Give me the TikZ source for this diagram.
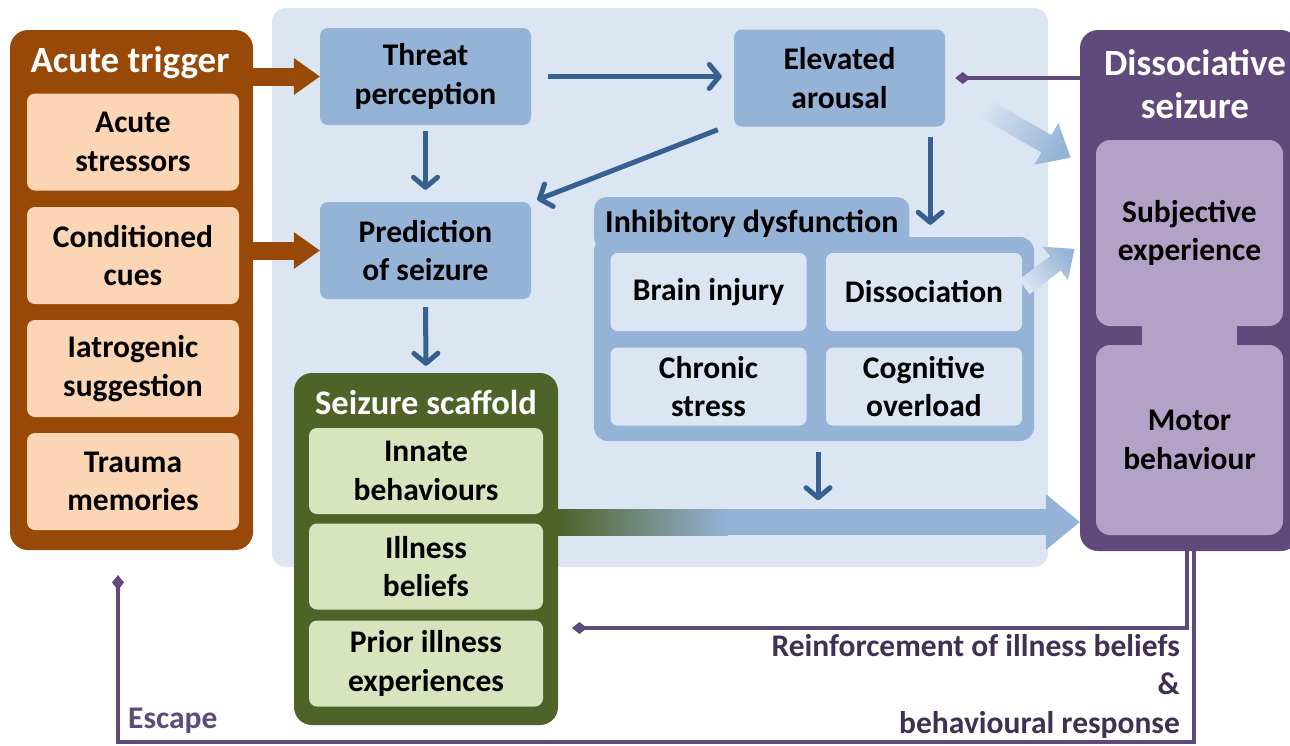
\documentclass[tikz,border=0pt]{standalone}
\usepackage{fontspec}
\setmainfont{Carlito}
\usetikzlibrary{arrows.meta,calc,positioning}

\definecolor{panelblue}{HTML}{DCE6F2}
\definecolor{boxblue}{HTML}{95B3D7}
\definecolor{arrowblue}{HTML}{376092}
\definecolor{trigbrown}{HTML}{984807}
\definecolor{trigpeach}{HTML}{FCD5B5}
\definecolor{scafgreen}{HTML}{4F6228}
\definecolor{scaflight}{HTML}{D7E4BD}
\definecolor{seizpurple}{HTML}{604A7B}
\definecolor{seizlight}{HTML}{B3A2C7}
\definecolor{labpurple}{HTML}{403152}

\begin{document}
\begin{tikzpicture}[x=1pt, y=-1pt,
   every node/.style={font=\bfseries\fontsize{31.5}{38.5}\selectfont, align=center, inner sep=0pt},
   frame/.style={rounded corners=18pt},
   title/.style={text=white, font=\bfseries\fontsize{37}{43}\selectfont},
   blubox/.style={fill=boxblue, rounded corners=8pt, minimum width=211pt, minimum height=97pt},
   peachbox/.style={fill=trigpeach, rounded corners=8pt, minimum width=212pt, minimum height=97pt},
   greenbox/.style={fill=scaflight, rounded corners=8pt, minimum width=234pt, minimum height=86pt},
   litebox/.style={fill=panelblue, rounded corners=7pt, minimum width=196pt, minimum height=78pt},
   lilacbox/.style={fill=seizlight, rounded corners=14pt, minimum width=187pt},
   thin/.style={draw=arrowblue, line width=5pt, -{Straight Barb[round,length=10pt,width=24pt]}},
   fat/.style={draw=trigbrown, line width=18pt, -{Triangle[length=26pt,width=37pt,line width=0pt]}},
   feedback/.style={draw=seizpurple, line width=3.5pt, -{Diamond[length=15pt,width=12pt,line width=0pt]}}]

   \useasboundingbox (0,0) rectangle (1290,745);

   % background panel
   \node[fill=panelblue, rounded corners=14pt, minimum width=776pt, minimum height=559pt] (panel) at (660,287.5) {};

   % acute trigger
   \node[frame, fill=trigbrown, minimum width=243pt, minimum height=520pt] (trig) at (131.5,290) {};
   \node[title] (trigtitle) at (130,63) {Acute trigger};
   \node[peachbox] (stress) at (133,142) {Acute\\stressors};
   \node[peachbox] (cues) at (133,255.5) {Conditioned\\cues};
   \node[peachbox] (iatro) at (133,368.5) {Iatrogenic\\suggestion};
   \node[peachbox] (trauma) at (133,481.5) {Trauma\\memories};

   % central boxes
   \node[blubox] (threat) at (425.5,76.5) {Threat\\perception};
   \node[blubox] (elev) at (839.5,78) {Elevated\\arousal};
   \node[blubox] (pred) at (425.5,250.5) {Prediction\\of seizure};

   % inhibitory dysfunction
   \node[fill=boxblue, rounded corners=12pt, anchor=north west, minimum height=53pt, inner xsep=11pt,
         font=\bfseries\fontsize{32}{38}\selectfont] (inhibtab) at (594,197) {Inhibitory dysfunction};
   \node[fill=boxblue, rounded corners=14pt, minimum width=440pt, minimum height=204pt] (inhib) at (814,339) {};
   \node[litebox] (brain) at (708.5,292) {Brain injury};
   \node[litebox] (dissoc) at (924,292) {Dissociation};
   \node[litebox] (chronic) at (708.5,386.5) {Chronic\\stress};
   \node[litebox] (cognit) at (924,386.5) {Cognitive\\overload};

   % seizure scaffold
   \node[frame, fill=scafgreen, minimum width=264pt, minimum height=352pt] (scaf) at (426,549) {};
   \node[title, font=\bfseries\fontsize{34.5}{40}\selectfont] (scaftitle) at (426,402) {Seizure scaffold};
   \node[greenbox] (innate) at (426,471) {Innate\\behaviours};
   \node[greenbox] (beliefs) at (426,566.5) {Illness\\beliefs};
   \node[greenbox] (prior) at (426,663.5) {Prior illness\\experiences};

   % dissociative seizure
   \node[frame, fill=seizpurple, minimum width=219pt, minimum height=521pt] (dis) at (1189.5,290.5) {};
   \node[title] (distitle) at (1195,84.5) {Dissociative\\seizure};
   \node[lilacbox, minimum height=186pt] (subj) at (1189.5,233) {Subjective\\experience};
   \node[lilacbox, minimum height=190pt] (motor) at (1189.5,440) {Motor\\behaviour};
   \fill[seizlight] ($(subj.south)+(-47.5,-2)$) rectangle ($(motor.north)+(47.5,2)$);

   % thin arrows
   \draw[thin] ([xshift=17pt]threat.east) -- ([xshift=-12pt]elev.west |- threat.east);
   \draw[thin] ([yshift=-6pt]threat.south) -- ([yshift=12pt]pred.north);
   \draw[thin] ([xshift=-16pt,yshift=-3pt]elev.south west) -- ([xshift=6pt,yshift=2pt]pred.north east);
   \coordinate (arousaldown) at ([xshift=-15pt]elev.south east);
   \draw[thin] ([yshift=-10pt]arousaldown) -- ([yshift=12pt]arousaldown |- inhib.north);
   \draw[thin] ([yshift=-8pt]pred.south) -- ([yshift=7pt]scaf.north);
   \draw[thin] ([xshift=4pt,yshift=-11pt]inhib.south) -- ([xshift=4pt,yshift=-59pt]inhib.south);

   % trigger arrows
   \draw[fat] (trig.east |- threat.west) -- (threat.west);
   \draw[fat] (trig.east |- pred.west) -- (pred.west);

   % main arrow to seizure
   \coordinate (bigy) at (700,522);
   \draw[line width=26pt, boxblue, -{Triangle[length=34pt,width=56pt,line width=0pt]}] (scaf.east |- bigy) -- (dis.west |- bigy);
   \shade[left color=scafgreen, right color=boxblue] ($(scaf.east |- bigy)+(0,-13)$) rectangle ($(scaf.east |- bigy)+(170,13)$);

   % faded arrows
   \begin{scope}[shift={($(elev.east)+(30,25)$)}, rotate=-29.8]
      \shade[left color=panelblue, right color=boxblue, shading angle=60.2]
         (0,10) -- (82,10) -- (82,24) -- (110,0) -- (82,-24) -- (82,-10) -- (0,-10) -- cycle;
   \end{scope}
   \begin{scope}[shift={($(dissoc.east)+(2,-5)$)}, rotate=37.2]
      \shade[left color=panelblue, right color=boxblue, shading angle=127.2]
         (0,9) -- (39,9) -- (39,21) -- (63,0) -- (39,-21) -- (39,-9) -- (0,-9) -- cycle;
   \end{scope}

   % feedback loops
   \draw[feedback] (dis.west |- elev.east) -- ([xshift=10pt]elev.east);
   \coordinate (reincorner) at (1187,628);
   \coordinate (reinend) at (572,628);
   \draw[feedback] (dis.south -| reincorner) -- (reincorner) -- (reinend);
   \coordinate (esccorner) at (1194,742);
   \coordinate (escend) at (118,575);
   \draw[feedback] (dis.south -| esccorner) -- (esccorner) -| (escend);

   \node[anchor=north east, align=right, text=labpurple] (reinlab) at (1180,634)
      {Reinforcement of illness beliefs\\\&\\behavioural response};
   \node[anchor=west, text=seizpurple] (esclab) at (128,721) {Escape};
\end{tikzpicture}
\end{document}
